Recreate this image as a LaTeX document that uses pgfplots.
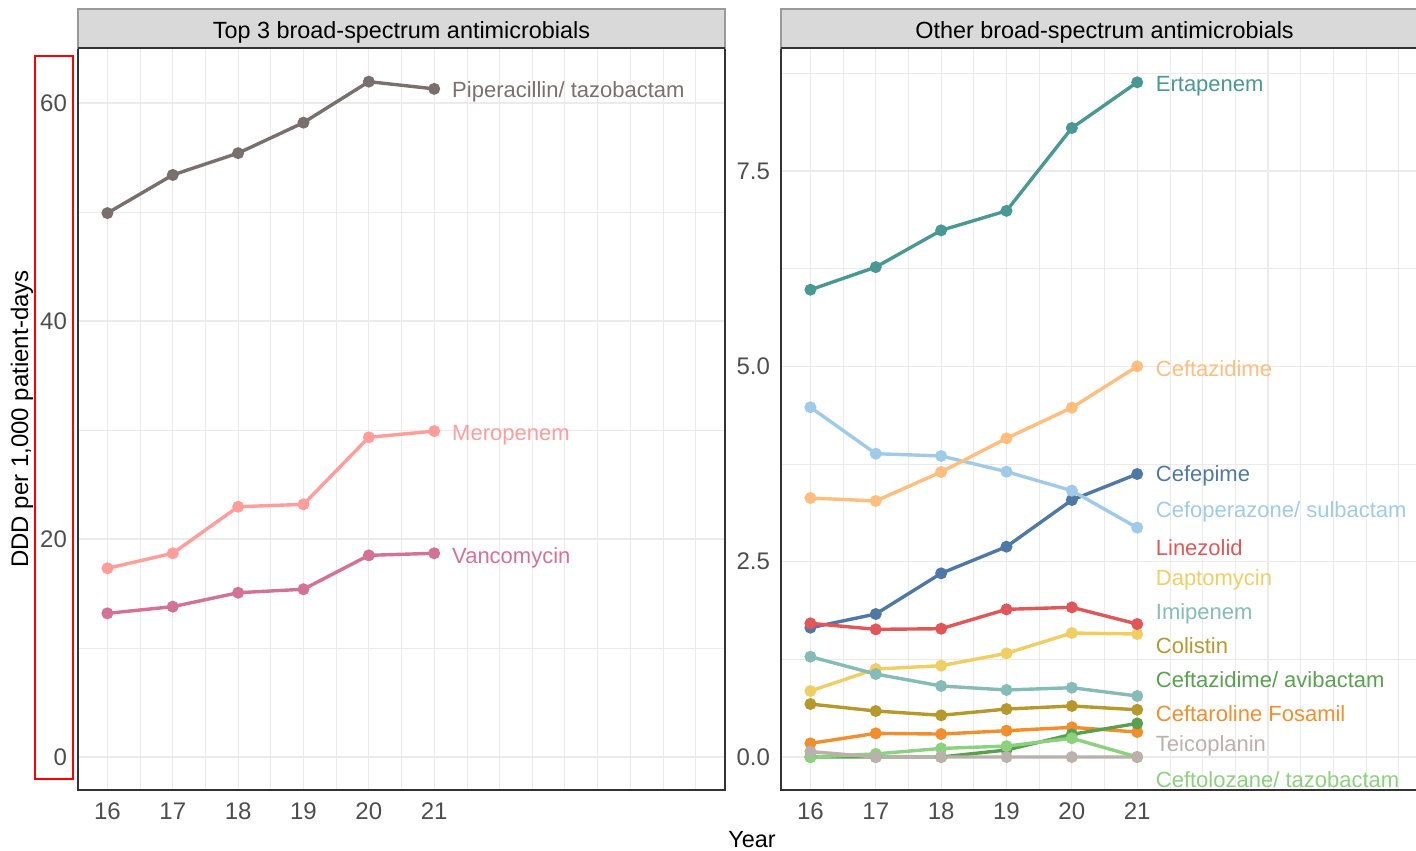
\documentclass[border=0pt]{standalone}
\usepackage{pgfplots}
\pgfplotsset{compat=1.18}
\usepackage{fontspec}
\setmainfont{Liberation Sans}
\definecolor{gridc}{HTML}{EBEBEB}
\definecolor{borderc}{HTML}{333333}
\definecolor{tickc}{HTML}{4D4D4D}
\definecolor{stripc}{HTML}{D9D9D9}
\definecolor{stripb}{HTML}{9A9A9A}
\definecolor{cPip}{HTML}{79706E}
\definecolor{cMero}{HTML}{FF9D9A}
\definecolor{cVanco}{HTML}{D37295}
\definecolor{cCefep}{HTML}{4E79A7}
\definecolor{cCefop}{HTML}{A0CBE8}
\definecolor{cCeftar}{HTML}{F28E2B}
\definecolor{cCeftaz}{HTML}{FFBE7D}
\definecolor{cCeftazAvi}{HTML}{59A14F}
\definecolor{cCeftol}{HTML}{8CD17D}
\definecolor{cColis}{HTML}{B6992D}
\definecolor{cDapto}{HTML}{F1CE63}
\definecolor{cErta}{HTML}{499894}
\definecolor{cImi}{HTML}{86BCB6}
\definecolor{cLine}{HTML}{E15759}
\definecolor{cTeico}{HTML}{BAB0AC}
\tikzset{lab/.style={anchor=west, inner sep=0pt, yshift=-1pt, font=\fontsize{11}{13}\selectfont}}
\begin{document}
\begin{tikzpicture}[font=\fontsize{11.7}{14}\selectfont]
\pgfplotsset{
  panel/.style={
    scale only axis, width=323.5pt, height=371pt, anchor=south west,
    xmin=15.55, xmax=25.45,
    xtick={16,...,25}, xticklabels={16,17,18,19,20,21,{},{},{},{}},
    minor x tick num=1,
    grid=both,
    major grid style={line width=0.6pt, color=gridc},
    minor grid style={line width=0.35pt, color=gridc},
    major tick length=0pt, minor tick length=0pt,
    axis line style={line width=0.8pt, color=borderc},
    tick label style={font=\fontsize{12}{14}\selectfont, text=tickc},
    xticklabel style={yshift=-3pt},
    yticklabel style={xshift=-2pt},
    /pgf/number format/assume math mode=true,
    clip=false,
    every axis plot/.append style={line width=1.7pt, mark=*, mark size=2.1pt, mark options={solid}},
  },
}
% ---------------- left panel
\begin{axis}[panel, name=L, at={(39pt,30pt)},
  ymin=-3.03, ymax=65.05, ytick={0,20,40,60}, minor ytick={10,30,50}]
\addplot[color=cMero] coordinates {(16,17.31) (17,18.69) (18,22.96) (19,23.18) (20,29.33) (21,29.9)};
\addplot[color=cPip] coordinates {(16,49.9) (17,53.4) (18,55.4) (19,58.2) (20,61.96) (21,61.3)};
\addplot[color=cVanco] coordinates {(16,13.18) (17,13.79) (18,15.07) (19,15.39) (20,18.5) (21,18.69)};
\node[lab, text=cPip] at (axis cs:21.27,61.2) {Piperacillin/ tazobactam};
\node[lab, text=cMero] at (axis cs:21.27,29.7) {Meropenem};
\node[lab, text=cVanco] at (axis cs:21.27,18.5) {Vancomycin};
\end{axis}
% ---------------- right panel
\begin{axis}[panel, name=R, at={(390.5pt,30pt)},
  ymin=-0.422, ymax=9.074, ytick={0,2.5,5,7.5}, minor ytick={1.25,3.75,6.25,8.75},
  yticklabel style={/pgf/number format/.cd, fixed, fixed zerofill, precision=1}]
\addplot[color=cCefep] coordinates {(16,1.655) (17,1.83) (18,2.351) (19,2.692) (20,3.289) (21,3.622)};
\addplot[color=cCefop] coordinates {(16,4.476) (17,3.882) (18,3.853) (19,3.652) (20,3.409) (21,2.935)};
\addplot[color=cCeftar] coordinates {(16,0.175) (17,0.303) (18,0.294) (19,0.337) (20,0.38) (21,0.32)};
\addplot[color=cCeftaz] coordinates {(16,3.315) (17,3.277) (18,3.648) (19,4.079) (20,4.471) (21,5.0)};
\addplot[color=cCeftazAvi] coordinates {(16,0) (17,0) (18,0) (19,0.09) (20,0.29) (21,0.43)};
\addplot[color=cCeftol] coordinates {(16,0) (17,0.04) (18,0.11) (19,0.14) (20,0.24) (21,0)};
\addplot[color=cColis] coordinates {(16,0.678) (17,0.589) (18,0.534) (19,0.614) (20,0.653) (21,0.605)};
\addplot[color=cDapto] coordinates {(16,0.845) (17,1.126) (18,1.169) (19,1.327) (20,1.587) (21,1.574)};
\addplot[color=cErta] coordinates {(16,5.98) (17,6.27) (18,6.74) (19,6.99) (20,8.05) (21,8.635)};
\addplot[color=cImi] coordinates {(16,1.284) (17,1.062) (18,0.909) (19,0.858) (20,0.887) (21,0.781)};
\addplot[color=cLine] coordinates {(16,1.711) (17,1.634) (18,1.642) (19,1.89) (20,1.916) (21,1.702)};
\addplot[color=cTeico] coordinates {(16,0.07) (17,0) (18,0) (19,0) (20,0) (21,0)};
\node[lab, text=cErta] at (axis cs:21.28,8.61) {Ertapenem};
\node[lab, text=cCeftaz] at (axis cs:21.28,4.99) {Ceftazidime};
\node[lab, text=cCefep] at (axis cs:21.28,3.62) {Cefepime};
\node[lab, text=cCefop] at (axis cs:21.28,3.16) {Cefoperazone/ sulbactam};
\node[lab, text=cLine] at (axis cs:21.28,2.71) {Linezolid};
\node[lab, text=cDapto] at (axis cs:21.28,2.29) {Daptomycin};
\node[lab, text=cImi] at (axis cs:21.28,1.86) {Imipenem};
\node[lab, text=cColis] at (axis cs:21.28,1.45) {Colistin};
\node[lab, text=cCeftazAvi] at (axis cs:21.28,1.02) {Ceftazidime/ avibactam};
\node[lab, text=cCeftar] at (axis cs:21.28,0.58) {Ceftaroline Fosamil};
\node[lab, text=cTeico] at (axis cs:21.28,0.17) {Teicoplanin};
\node[lab, text=cCeftol] at (axis cs:21.28,-0.26) {Ceftolozane/ tazobactam};
\end{axis}
% ---------------- strips
\draw[fill=stripc, draw=stripb, line width=0.6pt] (L.north west) rectangle ([yshift=19.5pt]L.north east);
\draw[borderc, line width=0.8pt] (L.north west) -- (L.north east);
\path (L.north) ++(0,8pt) node {Top 3 broad-spectrum antimicrobials};
\draw[fill=stripc, draw=stripb, line width=0.6pt] (R.north west) rectangle ([yshift=19.5pt]R.north east);
\draw[borderc, line width=0.8pt] (R.north west) -- (R.north east);
\path (R.north) ++(0,8pt) node {Other broad-spectrum antimicrobials};
% ---------------- axis titles
\node[rotate=90, font=\fontsize{12}{14}\selectfont] at (11pt,215.5pt) {DDD per 1,000 patient-days};
\node[anchor=base] at (376pt,1.5pt) {Year};
% ---------------- red highlight box
\draw[red, line width=1pt] (17.5pt,35.5pt) rectangle (36.5pt,397pt);
\pgfresetboundingbox
\path (0,0) rectangle (708pt,425pt);
\end{tikzpicture}
\end{document}
